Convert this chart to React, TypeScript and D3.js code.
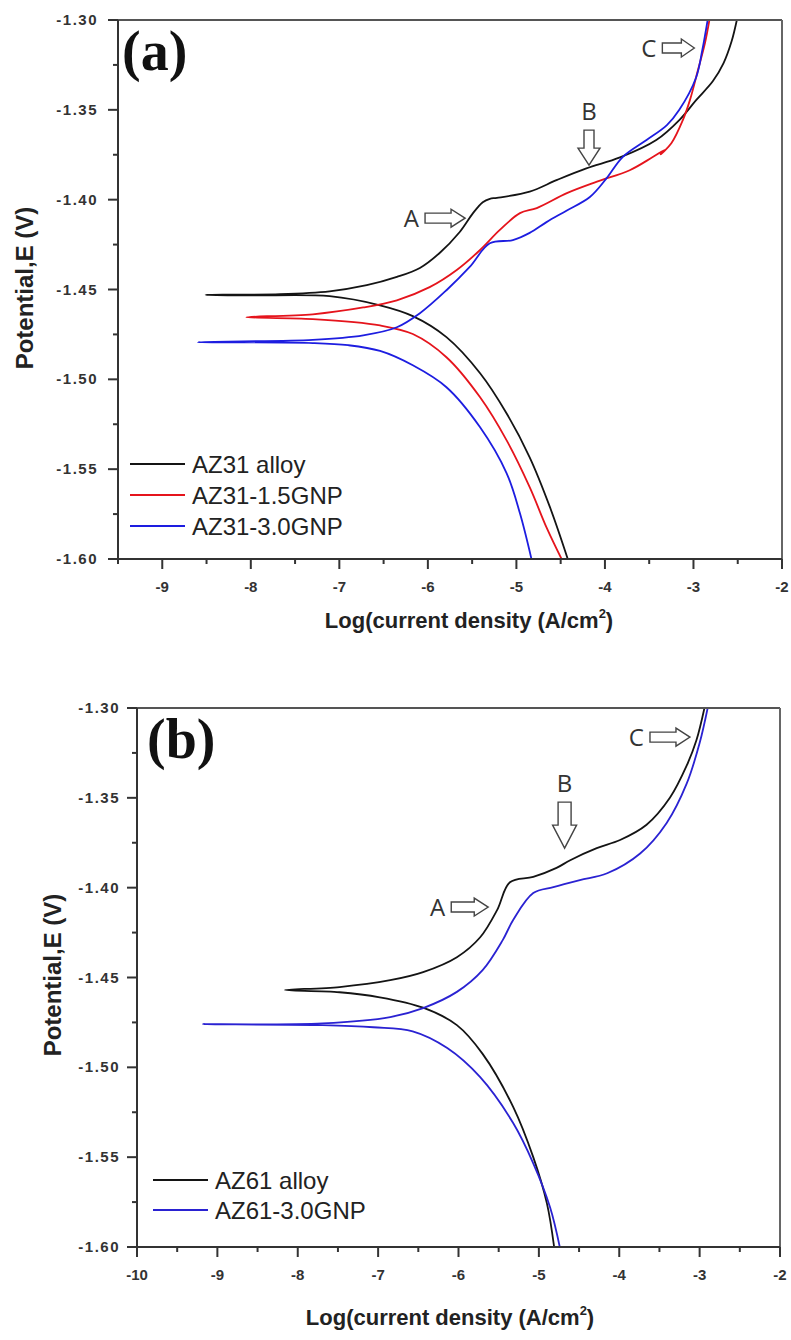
import React from "react";
import * as d3 from "d3";

type Pt = [number, number];

// ---------- Panel (a) data: [log i, E] ----------
const az31AlloyTip: Pt = [-8.51, -1.453];
const az31AlloyAnodic: Pt[] = [
  [-7.67, -1.4526], [-7.11, -1.451], [-6.69, -1.4476], [-6.35, -1.443], [-6.09, -1.438],
  [-5.87, -1.4298], [-5.64, -1.418], [-5.49, -1.4075], [-5.38, -1.4014], [-5.30, -1.3995],
  [-5.22, -1.399], [-4.85, -1.3955], [-4.54, -1.389], [-4.21, -1.3826], [-3.83, -1.3765],
  [-3.42, -1.3668], [-3.16, -1.3557], [-2.97, -1.3446], [-2.78, -1.334], [-2.66, -1.324],
  [-2.57, -1.312], [-2.51, -1.30],
];
const az31AlloyCathodic: Pt[] = [
  [-8.0, -1.4533], [-7.11, -1.4537], [-6.54, -1.4588], [-6.17, -1.4648], [-5.79, -1.4765],
  [-5.41, -1.4966], [-5.11, -1.519], [-4.85, -1.5434], [-4.62, -1.5713], [-4.42, -1.60],
];

const az31Gnp15Tip: Pt = [-8.05, -1.4654];
const az31Gnp15Anodic: Pt[] = [
  [-7.30, -1.4638], [-6.73, -1.46], [-6.35, -1.456], [-5.98, -1.4487], [-5.67, -1.439],
  [-5.41, -1.428], [-5.19, -1.417], [-4.96, -1.4075], [-4.77, -1.4047], [-4.43, -1.3964],
  [-4.09, -1.390], [-3.72, -1.3836], [-3.46, -1.3763], [-3.32, -1.3722], [-3.37, -1.3748],
  [-3.25, -1.3686], [-3.12, -1.3557], [-3.04, -1.3446], [-2.95, -1.328], [-2.87, -1.3128],
  [-2.82, -1.30],
];
const az31Gnp15Cathodic: Pt[] = [
  [-7.30, -1.4665], [-6.54, -1.470], [-6.17, -1.4748], [-5.79, -1.4877],
  [-5.41, -1.51], [-5.11, -1.534], [-4.85, -1.56], [-4.66, -1.5824], [-4.49, -1.60],
];

const az31Gnp30Tip: Pt = [-8.60, -1.4793];
const az31Gnp30Anodic: Pt[] = [
  [-7.30, -1.478], [-6.73, -1.4755], [-6.35, -1.471], [-6.09, -1.4632], [-5.79, -1.4504],
  [-5.53, -1.4376], [-5.30, -1.4243], [-5.04, -1.4225], [-4.85, -1.4185], [-4.66, -1.4125],
  [-4.43, -1.406], [-4.17, -1.3985], [-3.98, -1.388], [-3.80, -1.3763],
  [-3.53, -1.3668], [-3.30, -1.3585], [-3.16, -1.35], [-2.97, -1.332], [-2.90, -1.3167],
  [-2.84, -1.30],
];
const az31Gnp30Cathodic: Pt[] = [
  [-7.30, -1.4798], [-6.90, -1.4810], [-6.54, -1.4842], [-6.17, -1.4922], [-5.79, -1.5044],
  [-5.41, -1.5267], [-5.11, -1.5523], [-4.96, -1.5746], [-4.83, -1.60],
];

// ---------- Panel (b) data ----------
const az61AlloyTip: Pt = [-8.16, -1.457];
const az61AlloyAnodic: Pt[] = [
  [-7.48, -1.4553], [-6.85, -1.4515], [-6.44, -1.447], [-6.02, -1.4387], [-5.73, -1.4276],
  [-5.52, -1.4125], [-5.36, -1.397], [-5.07, -1.394], [-4.78, -1.389], [-4.61, -1.3847],
  [-4.28, -1.378], [-3.99, -1.3735], [-3.66, -1.365], [-3.37, -1.350], [-3.16, -1.332],
  [-3.04, -1.318], [-2.94, -1.30],
];
const az61AlloyCathodic: Pt[] = [
  [-7.48, -1.4582], [-6.98, -1.461], [-6.44, -1.4668], [-6.02, -1.4765], [-5.70, -1.4925],
  [-5.32, -1.522], [-5.07, -1.55], [-4.90, -1.5757], [-4.81, -1.60],
];

const az61Gnp30Tip: Pt = [-9.18, -1.476];
const az61Gnp30Anodic: Pt[] = [
  [-7.69, -1.4755], [-6.85, -1.472], [-6.44, -1.467], [-6.02, -1.458], [-5.70, -1.4459],
  [-5.45, -1.4292], [-5.32, -1.418], [-5.07, -1.403], [-4.82, -1.3997], [-4.49, -1.3958],
  [-4.15, -1.392], [-3.74, -1.381], [-3.41, -1.364], [-3.16, -1.342], [-3.0, -1.3195],
  [-2.90, -1.30],
];
const az61Gnp30Cathodic: Pt[] = [
  [-7.69, -1.4765], [-7.06, -1.4777], [-6.57, -1.480], [-6.14, -1.4893], [-5.73, -1.5055],
  [-5.32, -1.531], [-5.07, -1.5534], [-4.86, -1.578], [-4.74, -1.60],
];

// ---------- Ticks, labels ----------
const xTicksA = [-9, -8, -7, -6, -5, -4, -3, -2];
const xTicksB = [-10, -9, -8, -7, -6, -5, -4, -3, -2];
const yTicks = [-1.60, -1.55, -1.50, -1.45, -1.40, -1.35, -1.30];
const seriesNamesA = ["AZ31 alloy", "AZ31-1.5GNP", "AZ31-3.0GNP"];
const seriesNamesB = ["AZ61 alloy", "AZ61-3.0GNP"];
const yTitle = "Potential,E (V)";

type Series = { name: string; color: string; tip: Pt; anodic: Pt[]; cathodic: Pt[] };
type Annot = { letter: string; dir: "right" | "down"; tip: Pt; len: number; h1: number; h2: number; hl: number };

const seriesA: Series[] = [
  { name: seriesNamesA[0], color: "#141414", tip: az31AlloyTip, anodic: az31AlloyAnodic, cathodic: az31AlloyCathodic },
  { name: seriesNamesA[1], color: "#e5141c", tip: az31Gnp15Tip, anodic: az31Gnp15Anodic, cathodic: az31Gnp15Cathodic },
  { name: seriesNamesA[2], color: "#1d1de0", tip: az31Gnp30Tip, anodic: az31Gnp30Anodic, cathodic: az31Gnp30Cathodic },
];
const seriesB: Series[] = [
  { name: seriesNamesB[0], color: "#141414", tip: az61AlloyTip, anodic: az61AlloyAnodic, cathodic: az61AlloyCathodic },
  { name: seriesNamesB[1], color: "#2a22d2", tip: az61Gnp30Tip, anodic: az61Gnp30Anodic, cathodic: az61Gnp30Cathodic },
];

const annotsA: Annot[] = [
  { letter: "A", dir: "right", tip: [-5.58, -1.4103], len: 40, h1: 5, h2: 9, hl: 14 },
  { letter: "B", dir: "down", tip: [-4.18, -1.3808], len: 35, h1: 5, h2: 11, hl: 17 },
  { letter: "C", dir: "right", tip: [-2.99, -1.3156], len: 32, h1: 5, h2: 9, hl: 13 },
];
const annotsB: Annot[] = [
  { letter: "A", dir: "right", tip: [-5.63, -1.4108], len: 37, h1: 5, h2: 9, hl: 14 },
  { letter: "B", dir: "down", tip: [-4.68, -1.378], len: 46, h1: 6.5, h2: 12, hl: 23 },
  { letter: "C", dir: "right", tip: [-3.12, -1.3162], len: 40, h1: 5, h2: 9, hl: 14 },
];

type PanelProps = {
  id: string;
  tag: string;
  x: d3.ScaleLinear<number, number>;
  y: d3.ScaleLinear<number, number>;
  xTicks: number[];
  series: Series[];
  annots: Annot[];
  legendX: number;
  legendY: number;
  legendGap: number;
  yTitleX: number;
  yTitleY: number;
  xTitleX: number;
  xTitleY: number;
  yLabelRight: number;
  xLabelY: number;
};

function arrowPath(tx: number, ty: number, a: Annot): string {
  const { len, h1, h2, hl } = a;
  if (a.dir === "right") {
    return `M${tx},${ty} L${tx - hl},${ty - h2} L${tx - hl},${ty - h1} L${tx - len},${ty - h1} L${tx - len},${ty + h1} L${tx - hl},${ty + h1} L${tx - hl},${ty + h2} Z`;
  }
  return `M${tx},${ty} L${tx - h2},${ty - hl} L${tx - h1},${ty - hl} L${tx - h1},${ty - len} L${tx + h1},${ty - len} L${tx + h1},${ty - hl} L${tx + h2},${ty - hl} Z`;
}

function Panel(p: PanelProps) {
  const { x, y } = p;
  const [x0, x1] = x.range();
  const [y0, y1] = y.range(); // y0 bottom, y1 top
  const line = d3
    .line<Pt>()
    .x((d) => x(d[0]))
    .y((d) => y(d[1]))
    .curve(d3.curveCatmullRom.alpha(0.5));
  const xd = x.domain();
  const minorX: number[] = [];
  for (let v = Math.ceil(xd[0] * 2) / 2; v <= xd[1] + 1e-9; v += 0.5) {
    if (Math.abs(v - Math.round(v)) > 1e-6) minorX.push(v);
  }
  const minorY = [-1.575, -1.525, -1.475, -1.425, -1.375, -1.325];
  const tickFont = { fontFamily: "Liberation Sans, Arial, sans-serif", fontWeight: 700, fontSize: 15, fill: "#333" } as const;
  return (
    <g>
      <defs>
        <clipPath id={`clip-${p.id}`}>
          <rect x={x0} y={y1} width={x1 - x0} height={y0 - y1} />
        </clipPath>
      </defs>
      <g clipPath={`url(#clip-${p.id})`}>
        {p.series.map((s) => {
          const pts: Pt[] = [...s.cathodic].reverse().concat([s.tip], s.anodic);
          return <path key={s.name} d={line(pts) || ""} fill="none" stroke={s.color} strokeWidth={1.8} strokeLinejoin="round" />;
        })}
      </g>
      {/* frame */}
      <line x1={x0} y1={y1} x2={x1} y2={y1} stroke="#555" strokeWidth={2} />
      <line x1={x1} y1={y1} x2={x1} y2={y0} stroke="#666" strokeWidth={2} />
      <line x1={x0} y1={y0} x2={x1} y2={y0} stroke="#333" strokeWidth={2} />
      <line x1={x0} y1={y1} x2={x0} y2={y0} stroke="#333" strokeWidth={2} />
      {/* x ticks */}
      {p.xTicks.map((v) => (
        <g key={`xt${v}`}>
          <line x1={x(v)} x2={x(v)} y1={y0} y2={y0 + 10} stroke="#333" strokeWidth={2} />
          <text x={x(v)} y={p.xLabelY} textAnchor="middle" {...tickFont}>
            {String(v)}
          </text>
        </g>
      ))}
      {minorX.map((v) => (
        <line key={`xm${v}`} x1={x(v)} x2={x(v)} y1={y0} y2={y0 + 5} stroke="#333" strokeWidth={2} />
      ))}
      {/* y ticks */}
      {yTicks.map((v) => (
        <g key={`yt${v}`}>
          <line x1={x0 - 10} x2={x0} y1={y(v)} y2={y(v)} stroke="#333" strokeWidth={2} />
          <text x={p.yLabelRight} y={y(v) + 5} textAnchor="end" letterSpacing={1.5} {...tickFont}>
            {v.toFixed(2)}
          </text>
        </g>
      ))}
      {minorY.map((v) => (
        <line key={`ym${v}`} x1={x0 - 5} x2={x0} y1={y(v)} y2={y(v)} stroke="#333" strokeWidth={2} />
      ))}
      {/* titles */}
      <text
        transform={`translate(${p.yTitleX},${p.yTitleY}) rotate(-90)`}
        textAnchor="middle"
        fontFamily="Liberation Sans, Arial, sans-serif"
        fontWeight={700}
        fontSize={24}
        fill="#222"
      >
        {yTitle}
      </text>
      <text
        x={p.xTitleX}
        y={p.xTitleY}
        textAnchor="middle"
        fontFamily="Liberation Sans, Arial, sans-serif"
        fontWeight={700}
        fontSize={22}
        fill="#222"
      >
        Log(current density (A/cm
        <tspan fontSize={13} dy={-10}>2</tspan>
        <tspan dy={10}>)</tspan>
      </text>
      {/* panel tag */}
      <text x={x0 + 4 + (p.id === "b" ? 6 : 0)} y={y1 + 50} fontFamily="Liberation Serif, Times New Roman, serif" fontWeight={700} fontSize={56} fill="#111">
        {p.tag}
      </text>
      {/* legend */}
      {p.series.map((s, i) => (
        <g key={`lg${s.name}`}>
          <line x1={p.legendX} x2={p.legendX + 55} y1={p.legendY + i * p.legendGap} y2={p.legendY + i * p.legendGap} stroke={s.color} strokeWidth={2} />
          <text x={p.legendX + 62} y={p.legendY + i * p.legendGap + 8.5} fontFamily="Liberation Sans, Arial, sans-serif" fontSize={24} fill="#222">
            {s.name}
          </text>
        </g>
      ))}
      {/* annotations */}
      {p.annots.map((a) => {
        const tx = x(a.tip[0]);
        const ty = y(a.tip[1]);
        const lx = a.dir === "right" ? tx - a.len - 6 : tx;
        const ly = a.dir === "right" ? ty + 9 : ty - a.len - 10;
        return (
          <g key={`an${a.letter}`}>
            <path d={arrowPath(tx, ty, a)} fill="#fff" stroke="#444" strokeWidth={1.4} strokeLinejoin="miter" />
            <text x={lx} y={ly} textAnchor={a.dir === "right" ? "end" : "middle"} fontFamily="Open Sans, Liberation Sans, sans-serif" fontSize={24} fill="#333">
              {a.letter}
            </text>
          </g>
        );
      })}
    </g>
  );
}

export default function App() {
  const xA = d3.scaleLinear().domain([-9.5, -2]).range([118, 782]);
  const yA = d3.scaleLinear().domain([-1.6, -1.3]).range([559, 20]);
  const xB = d3.scaleLinear().domain([-10, -2]).range([137, 780]);
  const yB = d3.scaleLinear().domain([-1.6, -1.3]).range([1247, 708]);
  return (
    <svg width={791} height={1340} style={{ position: "absolute", left: 0, top: 0, background: "#fff" }}>
      <rect width={791} height={1340} fill="#fff" />
      <Panel
        id="a" tag="(a)" x={xA} y={yA} xTicks={xTicksA} series={seriesA} annots={annotsA}
        legendX={130} legendY={464} legendGap={31}
        yTitleX={33} yTitleY={288} xTitleX={469} xTitleY={628}
        yLabelRight={98} xLabelY={592}
      />
      <Panel
        id="b" tag="(b)" x={xB} y={yB} xTicks={xTicksB} series={seriesB} annots={annotsB}
        legendX={153} legendY={1180} legendGap={30}
        yTitleX={61} yTitleY={975} xTitleX={450} xTitleY={1325}
        yLabelRight={120} xLabelY={1280}
      />
    </svg>
  );
}
